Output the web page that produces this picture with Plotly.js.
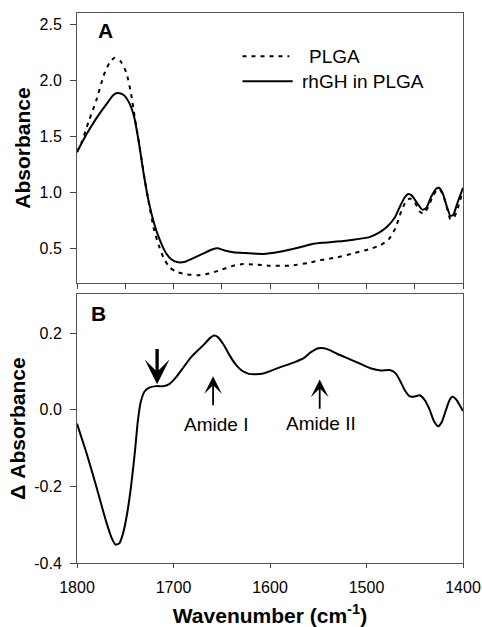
<!DOCTYPE html>
<html>
<head>
<meta charset="utf-8">
<script src="https://cdn.plot.ly/plotly-3.0.1.min.js"></script>
<style>html,body{margin:0;padding:0;background:#fff;} #chart{width:482px;height:627px;}</style>
</head>
<body>
<div id="chart"></div>
<script>
// Panel A: rhGH in PLGA (solid)
const wnSolid = [1800,1790,1780,1770,1762,1758,1752,1746,1741,1736,1731,1726,1720,1714,1708,1702,1695,1688,1680,1670,1660,1654,1647,1638,1625,1607,1590,1569,1555,1545,1531,1515,1497,1487,1479,1471,1465,1460,1457,1453,1448,1442,1438,1433,1428,1425,1421,1417,1413,1410,1406,1400];
const absSolid = [1.36,1.52,1.66,1.78,1.87,1.885,1.87,1.80,1.68,1.45,1.17,0.93,0.72,0.57,0.46,0.40,0.375,0.38,0.41,0.45,0.49,0.50,0.48,0.465,0.458,0.45,0.47,0.51,0.54,0.55,0.56,0.575,0.60,0.64,0.69,0.77,0.88,0.96,0.985,0.97,0.91,0.845,0.86,0.96,1.03,1.04,0.99,0.88,0.79,0.80,0.90,1.04];
// Panel A: PLGA (dotted)
const wnDotted = [1800,1795,1788,1780,1772,1766,1761,1755,1749,1744,1740,1735,1730,1725,1720,1715,1710,1704,1697,1688,1675,1663,1650,1638,1628,1615,1600,1580,1560,1548,1530,1514,1498,1485,1477,1470,1464,1459,1455,1450,1445,1441,1436,1431,1427,1424,1420,1416,1413,1409,1405,1400];
const absDotted = [1.36,1.45,1.63,1.82,2.05,2.16,2.20,2.17,2.07,1.88,1.66,1.40,1.12,0.88,0.66,0.52,0.41,0.33,0.29,0.27,0.26,0.275,0.31,0.345,0.36,0.355,0.345,0.345,0.37,0.395,0.42,0.455,0.49,0.53,0.58,0.68,0.83,0.92,0.945,0.91,0.83,0.81,0.87,0.97,1.02,1.025,0.96,0.84,0.76,0.78,0.87,1.02];
// Panel B: difference spectrum
const wnDiff = [1800,1795,1790,1780,1770,1764,1760,1756,1752,1748,1744,1740,1737,1734,1730,1725,1718,1710,1704,1697,1690,1683,1675,1669,1662,1658,1654,1648,1642,1636,1630,1622,1615,1607,1590,1575,1565,1558,1550,1544,1538,1530,1520,1507,1495,1485,1476,1470,1465,1460,1455,1450,1445,1440,1435,1430,1426,1422,1418,1414,1411,1407,1403,1400];
const dAbs = [-0.036,-0.075,-0.114,-0.20,-0.29,-0.335,-0.352,-0.348,-0.32,-0.27,-0.20,-0.11,-0.03,0.02,0.048,0.058,0.062,0.062,0.068,0.086,0.11,0.134,0.155,0.169,0.188,0.194,0.19,0.17,0.143,0.12,0.104,0.094,0.093,0.095,0.111,0.124,0.135,0.15,0.161,0.161,0.156,0.146,0.135,0.121,0.108,0.103,0.104,0.096,0.075,0.050,0.035,0.035,0.038,0.027,0.003,-0.03,-0.043,-0.032,-0.003,0.025,0.034,0.027,0.01,-0.003];

const xTicksA = [1800,1750,1700,1650,1600,1550,1500,1450,1400];
const xTicksB = [1800,1700,1600,1500,1400];
const yTicksA = [0.5,1.0,1.5,2.0,2.5];
const yTickTextA = ['0.5','1.0','1.5','2.0','2.5'];
const yTicksB = [-0.4,-0.2,0.0,0.2];
const yTickTextB = ['-0.4','-0.2','0.0','0.2'];
const seriesNames = ['PLGA','rhGH in PLGA'];

const FONT = 'Liberation Sans, Arial, sans-serif';

const traces = [
  {x: wnDotted, y: absDotted, xaxis:'x', yaxis:'y', mode:'lines', name: seriesNames[0],
   line:{color:'#000', width:2, dash:'4px,5px', shape:'spline', smoothing:0.6}, showlegend:false},
  {x: wnSolid, y: absSolid, xaxis:'x', yaxis:'y', mode:'lines', name: seriesNames[1],
   line:{color:'#000', width:2, shape:'spline', smoothing:0.6}, showlegend:false},
  {x: wnDiff, y: dAbs, xaxis:'x2', yaxis:'y2', mode:'lines', name:'difference',
   line:{color:'#000', width:2, shape:'spline', smoothing:0.6}, showlegend:false}
];

const axisCommon = {showline:true, mirror:true, linecolor:'#555', linewidth:1, showgrid:false, zeroline:false,
  tickcolor:'#444', tickfont:{family:FONT, size:16, color:'#000'}};

const layout = {
  width:482, height:627,
  margin:{l:77, r:19, t:13, b:64},
  paper_bgcolor:'#fff', plot_bgcolor:'#fff',
  font:{family:FONT, color:'#000'},
  xaxis: Object.assign({}, axisCommon, {domain:[0,1], anchor:'y', range:[1800,1400], tickvals:xTicksA,
    showticklabels:false, ticks:'outside', ticklen:5}),
  yaxis: Object.assign({}, axisCommon, {domain:[0.509,1], anchor:'x', range:[0.19,2.6], tickvals:yTicksA, ticktext:yTickTextA,
    ticks:'outside', ticklen:6, ticklabelstandoff:5,
    title:{text:'Absorbance', font:{family:FONT, size:21, weight:'bold', color:'#000'}, standoff:3}}),
  xaxis2: Object.assign({}, axisCommon, {domain:[0,1], anchor:'y2', range:[1800,1400], tickvals:xTicksB,
    ticks:'outside', ticklen:4, ticklabelstandoff:6,
    title:{text:'<b>Wavenumber (cm<sup>-1</sup>)</b>', font:{family:FONT, size:21, color:'#000'}, standoff:19}}),
  yaxis2: Object.assign({}, axisCommon, {domain:[0,0.489], anchor:'x2', range:[-0.4,0.3025], tickvals:yTicksB, ticktext:yTickTextB,
    ticks:'outside', ticklen:6, ticklabelstandoff:5,
    title:{text:'Δ Absorbance', font:{family:FONT, size:21, weight:'bold', color:'#000'}, standoff:2}}),
  shapes:[
    {type:'line', xref:'x', yref:'y', x0:1628.5, x1:1580, y0:2.213, y1:2.213, line:{color:'#000', width:2, dash:'4px,5px'}},
    {type:'line', xref:'x', yref:'y', x0:1628.5, x1:1576.5, y0:1.991, y1:1.991, line:{color:'#000', width:2}}
  ],
  annotations:[
    {xref:'x', yref:'y', x:1770, y:2.44, text:'<b>A</b>', showarrow:false, font:{family:FONT, size:21, color:'#000'}},
    {xref:'x2', yref:'y2', x:1778, y:0.251, text:'<b>B</b>', showarrow:false, font:{family:FONT, size:21, color:'#000'}},
    {xref:'x', yref:'y', x:1562, y:2.213, xanchor:'left', text:seriesNames[0], showarrow:false, font:{family:FONT, size:19, color:'#000'}},
    {xref:'x', yref:'y', x:1568.5, y:1.991, xanchor:'left', text:seriesNames[1], showarrow:false, font:{family:FONT, size:19, color:'#000'}},
    // big arrow
    {xref:'x2', yref:'y2', axref:'x2', ayref:'y2', x:1717, y:0.067, ax:1717, ay:0.163, text:'', showarrow:true,
     arrowhead:3, arrowwidth:3.3, arrowsize:1.25, arrowcolor:'#000'},
    // Amide I arrow
    {xref:'x2', yref:'y2', axref:'x2', ayref:'y2', x:1659, y:0.088, ax:1659, ay:0.008, text:'', showarrow:true,
     arrowhead:3, arrowwidth:1.8, arrowsize:1.65, arrowcolor:'#000'},
    // Amide II arrow
    {xref:'x2', yref:'y2', axref:'x2', ayref:'y2', x:1548.5, y:0.0795, ax:1548.5, ay:-0.001, text:'', showarrow:true,
     arrowhead:3, arrowwidth:1.8, arrowsize:1.65, arrowcolor:'#000'},
    {xref:'x2', yref:'y2', x:1655.5, y:-0.037, text:'Amide I', showarrow:false, font:{family:FONT, size:19, color:'#000'}},
    {xref:'x2', yref:'y2', x:1547.5, y:-0.036, text:'Amide II', showarrow:false, font:{family:FONT, size:19, color:'#000'}}
  ]
};

Plotly.newPlot('chart', traces, layout, {staticPlot:true, displayModeBar:false});
</script>
</body>
</html>
